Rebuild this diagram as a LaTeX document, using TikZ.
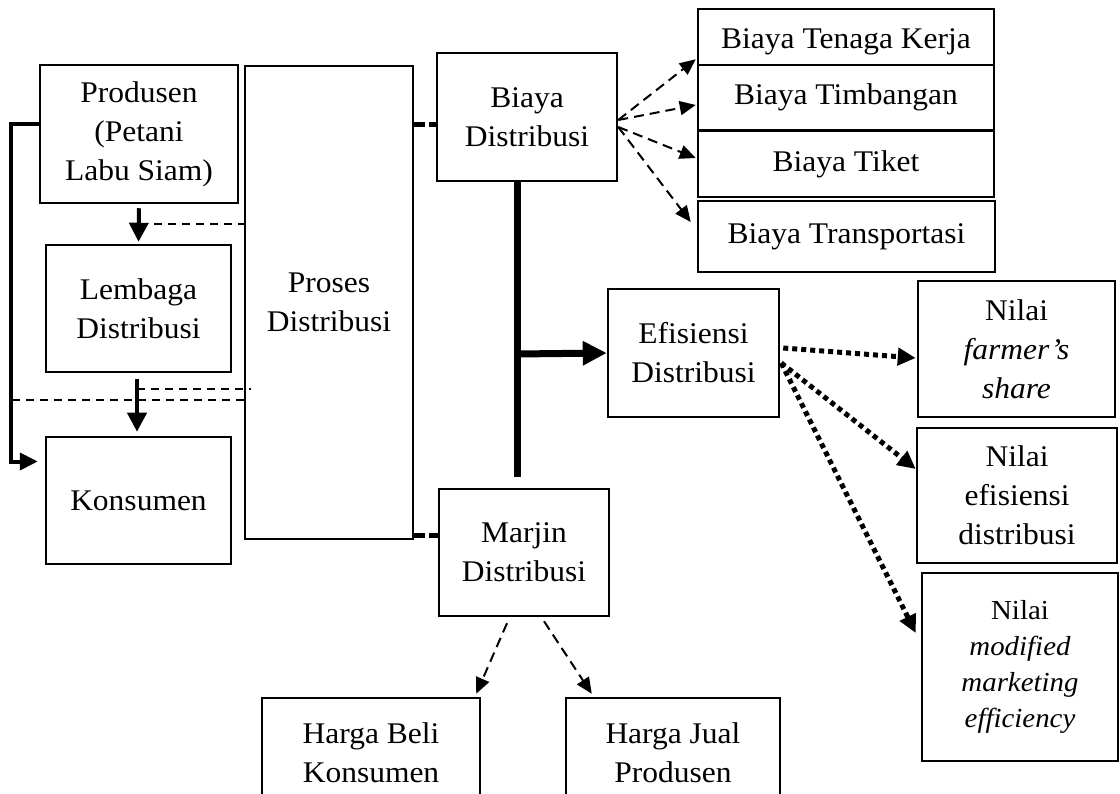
\documentclass[tikz,border=0pt]{standalone}
\usepackage{fontspec}
\setmainfont[FakeStretch=1.05]{Liberation Serif}
\usetikzlibrary{arrows.meta}
\usetikzlibrary{calc}

\begin{document}
\begin{tikzpicture}[x=1pt, y=-1pt,
  box/.style={draw=black, line width=2.5pt, shape=rectangle, align=center, inner sep=0pt, font=\fontsize{30}{39}\selectfont},
  smallbox/.style={box, font=\fontsize{27.5}{36}\selectfont},
  loopline/.style={line width=4pt, -{Triangle[length=18pt,width=17pt]}},
  solidarrow/.style={line width=4pt, -{Triangle[length=19pt,width=19pt]}},
  bigarrow/.style={line width=7pt, -{Triangle[length=24pt,width=23pt]}},
  bar/.style={line width=7pt},
  dashline/.style={line width=2pt, dash pattern=on 8pt off 6pt},
  linkdash/.style={line width=5pt, dash pattern=on 11pt off 4pt},
  dasharrow/.style={line width=2pt, dash pattern=on 10pt off 6pt, -{Triangle[length=16pt,width=14pt]}},
  dotarrow/.style={line width=5pt, dash pattern=on 5pt off 4pt, -{Triangle[length=18pt,width=17pt]}}]

\useasboundingbox (0,0) rectangle (1120,794);
\clip (0,0) rectangle (1120,794);

\node (prod) [box, minimum width=198pt, minimum height=138pt] at (139, 134) {Produsen\\(Petani\\Labu Siam)};
\node (proses) [box, minimum width=168pt, minimum height=473pt] at (329, 302.5) {Proses\\Distribusi};
\node (lemb) [box, minimum width=185pt, minimum height=127pt] at (138.5, 308.5) {Lembaga\\Distribusi};
\node (kons) [box, minimum width=185pt, minimum height=127pt] at (138.5, 500.5) {Konsumen};

\node (biaya) [box, minimum width=180pt, minimum height=128pt] at (527, 117) {Biaya\\Distribusi};
\node (tenaga) [box, minimum width=296pt, minimum height=56pt, text height=23pt, text depth=0pt] at (846, 37) {Biaya Tenaga Kerja};
\node (timbang) [box, minimum width=296pt, minimum height=65pt] at (846, 97.5) {Biaya Timbangan};
\node (tiket) [box, minimum width=296pt, minimum height=66pt] at (846, 164) {Biaya Tiket};
\node (transport) [box, minimum width=297pt, minimum height=71pt] at (846.5, 236.5) {Biaya Transportasi};

\node (efis) [box, minimum width=171pt, minimum height=128pt] at (693.5, 353) {Efisiensi\\Distribusi};
\node (marjin) [box, minimum width=170pt, minimum height=127pt] at (524, 552.5) {Marjin\\Distribusi};

\node (farmer) [box, minimum width=197pt, minimum height=136pt] at (1016.5, 349) {Nilai\\\textit{farmer’s}\\\textit{share}};
\node (efdist) [box, minimum width=200pt, minimum height=135pt] at (1017, 495.5) {Nilai\\efisiensi\\distribusi};
\node (modif) [smallbox, minimum width=196pt, minimum height=188pt] at (1020, 667) {Nilai\\\textit{modified}\\\textit{marketing}\\\textit{efficiency}};

\node (hbeli) [box, minimum width=218pt, minimum height=110pt] at (371, 753) {Harga Beli\\Konsumen};
\node (hjual) [box, minimum width=214pt, minimum height=110pt] at (673, 753) {Harga Jual\\Produsen};

% left side
\draw[loopline] ([yshift=10pt]prod.west) -- ++(-28,0) |- ([xshift=-7pt,yshift=39pt]kons.west);
\draw[solidarrow, shorten >=2pt] ([yshift=-4pt]prod.south) -- (lemb.north);
\draw[solidarrow] ([xshift=-1.5pt,yshift=-6pt]lemb.south) -- ([xshift=-1.5pt,yshift=4pt]kons.north);

\coordinate (d1) at (140, 224);
\coordinate (d2) at (137, 389);
\coordinate (d3) at (12, 400);
\draw[dashline] (d1) -- (d1 -| proses.west);
\draw[dashline] (d2) -- ($(d2 -| proses.west)+(7,0)$);
\draw[dashline] (d3) -- (d3 -| proses.west);

\coordinate (b1) at ([yshift=-8pt]biaya.west);
\coordinate (m1) at ([yshift=17pt]marjin.west);
\draw[linkdash] (b1 -| proses.east) -- (b1);
\draw[linkdash] (m1 -| proses.east) -- (m1);

% middle bar
\coordinate (bartop) at (517, 182);
\coordinate (barmid) at (517, 354);
\coordinate (barbot) at (517, 477);
\draw[bar] (bartop) -- (barbot);
\draw[bigarrow] (barmid) -- (efis.west);

% biaya
\draw[dasharrow] ([yshift=-3pt]biaya.east) -- ([xshift=-1pt,yshift=7pt]tenaga.south west);
\draw[dasharrow] ([yshift=-3pt]biaya.east) -- ([xshift=-1pt,yshift=-7.5pt]timbang.west);
\draw[dasharrow] ([yshift=-10pt]biaya.east) -- ([xshift=-1pt,yshift=6pt]tiket.west);
\draw[dasharrow] ([yshift=-10pt]biaya.east) -- ([xshift=-6pt,yshift=14.5pt]transport.west);

% efisiensi
\draw[dotarrow] ([xshift=3pt,yshift=5pt]efis.east) -- ([xshift=-1pt,yshift=-9pt]farmer.west);
\draw[dotarrow] ([xshift=1pt,yshift=-10pt]efis.east) -- ([yshift=26.5pt]efdist.west);
\draw[dotarrow] ([xshift=1pt,yshift=-10pt]efis.east) -- ([xshift=-5pt,yshift=34pt]modif.west);

% marjin
\draw[dasharrow] ([xshift=-17pt,yshift=-6pt]marjin.south) -- ([xshift=-5pt,yshift=3pt]hbeli.north east);
\draw[dasharrow] ([xshift=20pt,yshift=-4pt]marjin.south) -- ([xshift=27pt,yshift=3pt]hjual.north west);

\end{tikzpicture}
\end{document}
